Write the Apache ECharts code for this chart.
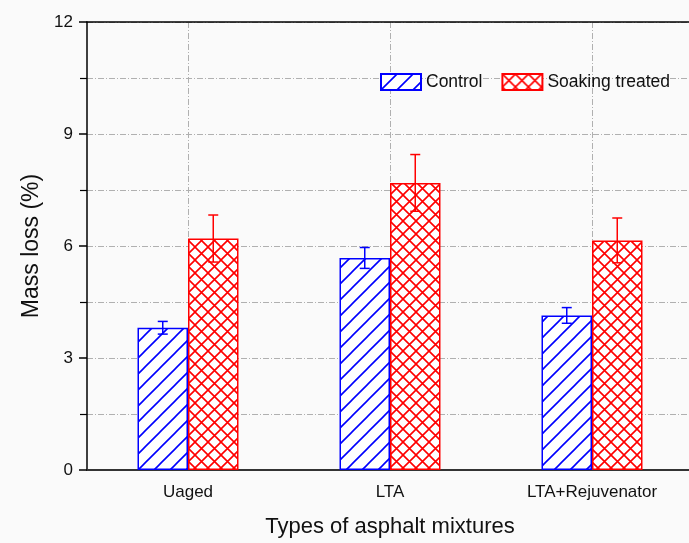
<!DOCTYPE html>
<html>
<head>
<meta charset="utf-8">
<script src="https://cdn.jsdelivr.net/npm/echarts@6/dist/echarts.min.js"></script>
<style>
  html, body { margin: 0; padding: 0; background: #fafafa; overflow: hidden; }
  #chart { width: 693px; height: 543px; }
</style>
</head>
<body>
<div id="chart"></div>
<script>
var categories = ["Uaged", "LTA", "LTA+Rejuvenator"];
var controlValues = [3.81, 5.68, 4.14];
var controlErrors = [0.17, 0.28, 0.21];
var soakValues = [6.20, 7.69, 6.15];
var soakErrors = [0.63, 0.76, 0.60];
var yTicks = [0, 3, 6, 9, 12];

var FONT = "'Liberation Sans', Arial, sans-serif";
var BLUE = "#0000ff";
var RED = "#ff0000";

// hatch patterns
function hatchPattern(color) {
  var c = document.createElement("canvas");
  var s = 16;
  c.width = s; c.height = s;
  var ctx = c.getContext("2d");
  ctx.fillStyle = "#ffffff";
  ctx.fillRect(0, 0, s, s);
  ctx.strokeStyle = color;
  ctx.lineWidth = 1.6;
  ctx.beginPath();
  ctx.moveTo(-2, s + 2); ctx.lineTo(s + 2, -2);
  ctx.moveTo(-2, 2); ctx.lineTo(2, -2);
  ctx.moveTo(s - 2, s + 2); ctx.lineTo(s + 2, s - 2);
  ctx.stroke();
  return c;
}
function crossPattern(color) {
  var c = document.createElement("canvas");
  var s = 13;
  c.width = s; c.height = s;
  var ctx = c.getContext("2d");
  ctx.fillStyle = "#ffffff";
  ctx.fillRect(0, 0, s, s);
  ctx.strokeStyle = color;
  ctx.lineWidth = 1.6;
  ctx.beginPath();
  ctx.moveTo(-1, s + 1); ctx.lineTo(s + 1, -1);
  ctx.moveTo(-1, -1); ctx.lineTo(s + 1, s + 1);
  ctx.stroke();
  return c;
}

function errRender(shift, color) {
  return function (params, api) {
    var idx = api.value(0);
    var v = api.value(1), e = api.value(2);
    var band = api.size([1, 0])[0];
    var top = api.coord([idx, v + e]);
    var bot = api.coord([idx, v - e]);
    var x = top[0] + shift * band;
    var half = 5;
    var st = { stroke: color, lineWidth: 1.5 };
    return {
      type: "group",
      children: [
        { type: "line", shape: { x1: x, y1: top[1], x2: x, y2: bot[1] }, style: st },
        { type: "line", shape: { x1: x - half, y1: top[1], x2: x + half, y2: top[1] }, style: st },
        { type: "line", shape: { x1: x - half, y1: bot[1], x2: x + half, y2: bot[1] }, style: st }
      ]
    };
  };
}

var chart = echarts.init(document.getElementById("chart"));

var gridDash = { color: "#b0b0b0", width: 1, type: [6, 2, 1, 2] };

var option = {
  backgroundColor: "#fafafa",
  animation: false,
  textStyle: { fontFamily: FONT },
  grid: { left: 87, top: 22, right: 0, bottom: 70 },
  legend: {
    data: ["Control", "Soaking treated"],
    left: 375, top: 68,
    itemWidth: 40, itemHeight: 16, itemGap: 19,
    icon: "rect",
    textStyle: { fontSize: 17.5, color: "#111", fontFamily: FONT }
  },
  xAxis: [
    {
      type: "category",
      data: categories,
      position: "bottom",
      name: "Types of asphalt mixtures",
      nameLocation: "middle",
      nameGap: 46,
      nameTextStyle: { fontSize: 22, color: "#111", fontFamily: FONT },
      axisLine: { lineStyle: { color: "#333", width: 2 } },
      axisTick: { alignWithLabel: true, length: 7, lineStyle: { color: "#333", width: 1.5 } },
      axisLabel: { fontSize: 17, color: "#111", margin: 14, fontFamily: FONT },
      splitLine: { show: true, alignWithLabel: true, lineStyle: gridDash }
    },
    {
      type: "category",
      data: categories,
      position: "bottom",
      axisLine: { show: false },
      axisTick: { length: 4, lineStyle: { color: "#333", width: 1.5 } },
      axisLabel: { show: false },
      splitLine: { show: false }
    },
    {
      type: "category",
      data: categories,
      position: "top",
      axisLine: { lineStyle: { color: "#000", width: 1.5 } },
      axisTick: { show: false },
      axisLabel: { show: false },
      splitLine: { show: false }
    }
  ],
  yAxis: {
    type: "value",
    min: yTicks[0], max: yTicks[yTicks.length - 1], interval: 3,
    name: "Mass loss (%)",
    nameLocation: "middle",
    nameGap: 41,
    nameTextStyle: { fontSize: 23, color: "#111", fontFamily: FONT },
    axisLine: { show: true, lineStyle: { color: "#000", width: 1.5 } },
    axisTick: { show: true, length: 8, lineStyle: { color: "#000", width: 1.5 } },
    minorTick: { show: true, splitNumber: 2, length: 7, lineStyle: { color: "#000", width: 1.2 } },
    axisLabel: { fontSize: 17, color: "#111", margin: 14, fontFamily: FONT },
    splitLine: { show: true, lineStyle: gridDash },
    minorSplitLine: { show: true, lineStyle: gridDash }
  },
  series: [
    {
      name: "Control",
      type: "bar",
      data: controlValues,
      barGap: "0%",
      barCategoryGap: "50%",
      itemStyle: {
        color: { image: hatchPattern(BLUE), repeat: "repeat" },
        borderColor: BLUE, borderWidth: 1.5
      }
    },
    {
      name: "Soaking treated",
      type: "bar",
      data: soakValues,
      barGap: "0%",
      barCategoryGap: "50%",
      itemStyle: {
        color: { image: crossPattern(RED), repeat: "repeat" },
        borderColor: RED, borderWidth: 1.5
      }
    },
    {
      type: "custom",
      renderItem: errRender(-0.125, BLUE),
      data: controlValues.map(function (v, i) { return [i, v, controlErrors[i]]; }),
      encode: { x: 0, y: 1 },
      z: 5
    },
    {
      type: "custom",
      renderItem: errRender(0.125, RED),
      data: soakValues.map(function (v, i) { return [i, v, soakErrors[i]]; }),
      encode: { x: 0, y: 1 },
      z: 5
    }
  ]
};

chart.setOption(option);
</script>
</body>
</html>
